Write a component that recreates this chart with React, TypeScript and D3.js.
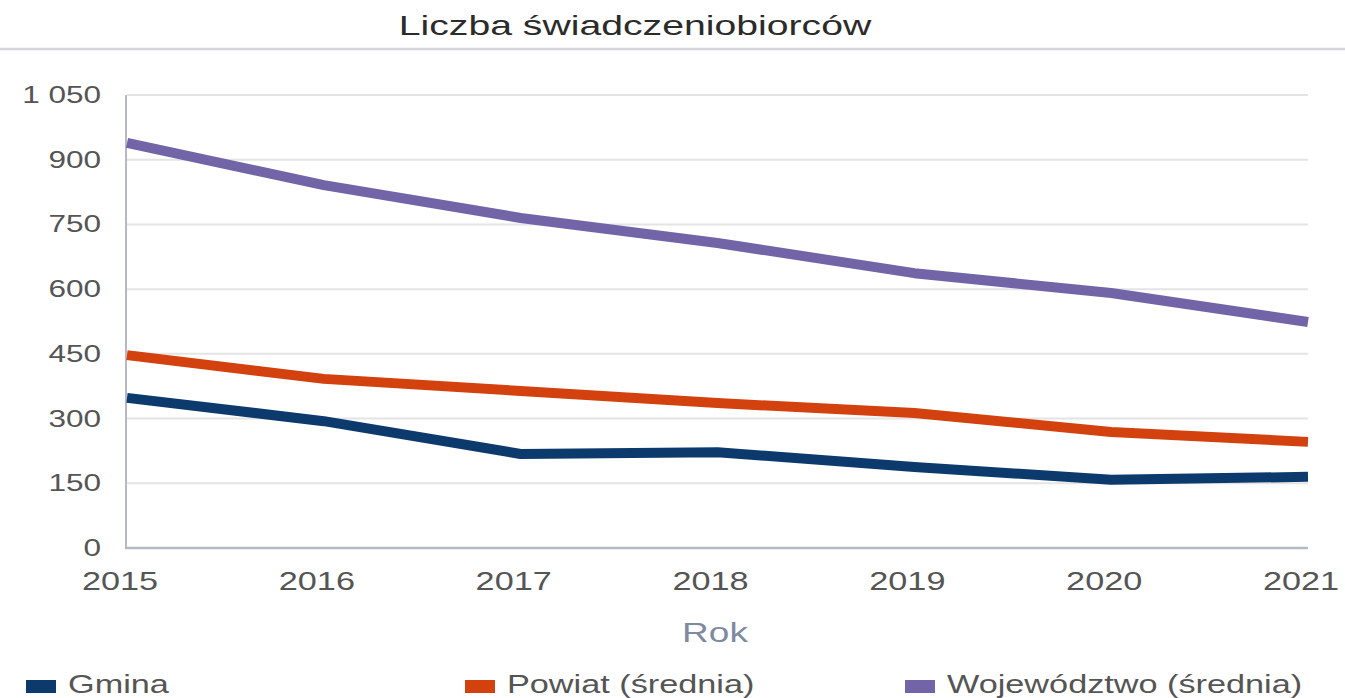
import React, { useRef, useEffect } from "react";
import * as d3 from "d3";

const years = [2015, 2016, 2017, 2018, 2019, 2020, 2021];
const gmina = [348, 294, 218, 222, 188, 158, 165];
const powiat = [447, 392, 364, 336, 313, 269, 246];
const wojewodztwo = [939, 841, 765, 707, 637, 591, 524];
const yTicks = [0, 150, 300, 450, 600, 750, 900, 1050];

const seriesNames = ["Gmina", "Powiat (średnia)", "Województwo (średnia)"];
const seriesColors = ["#0d3a6c", "#d2410e", "#7265a7"];

const FONT = "'Liberation Sans', Arial, sans-serif";

// the reference text is drawn horizontally stretched, so squeeze it back in with a scale
const stretchText = (g, x, y, str, size, anchor, color, sx = 1.37) =>
  g.append("text")
    .attr("transform", `translate(${x},${y}) scale(${sx},1)`)
    .attr("text-anchor", anchor)
    .attr("font-family", FONT)
    .attr("font-size", size)
    .attr("fill", color)
    .text(str);

const App = () => {
  const svgRef = useRef(null);
  const width = 1345;
  const height = 698;

  useEffect(() => {
    const svg = d3.select(svgRef.current);
    svg.selectAll("*").remove();

    const x = d3.scaleLinear().domain([2015, 2021]).range([127, 1308]);
    const y = d3.scaleLinear().domain([0, 1050]).range([548, 95]);

    svg.append("rect").attr("width", width).attr("height", height).attr("fill", "#fff");

    // title + separator
    stretchText(svg, 635, 35, "Liczba świadczeniobiorców", 28, "middle", "#2b2b2b", 1.4);
    svg.append("line")
      .attr("x1", 0).attr("x2", width)
      .attr("y1", 49).attr("y2", 49)
      .attr("stroke", "#d6d6d9")
      .attr("stroke-width", 2.5);

    // grid
    const grid = svg.append("g");
    grid.selectAll("line")
      .data(yTicks.filter(d => d > 0))
      .enter()
      .append("line")
      .attr("x1", x(2015)).attr("x2", x(2021))
      .attr("y1", d => y(d)).attr("y2", d => y(d))
      .attr("stroke", "#e4e4e6")
      .attr("stroke-width", 2);

    // axis lines
    svg.append("line")
      .attr("x1", x(2015) - 1).attr("x2", x(2015) - 1)
      .attr("y1", y(1050)).attr("y2", y(0))
      .attr("stroke", "#b6b8c8").attr("stroke-width", 2);
    svg.append("line")
      .attr("x1", x(2015) - 2).attr("x2", x(2021))
      .attr("y1", y(0)).attr("y2", y(0))
      .attr("stroke", "#b6b8c8").attr("stroke-width", 2.5);

    // y tick labels
    const fmt = d => d3.format(",")(d).replace(",", " ");
    yTicks.forEach(t => stretchText(svg, 101, y(t) + 8, fmt(t), 23, "end", "#555"));

    // x tick labels
    years.forEach(yr => stretchText(svg, x(yr) - 7, 590, String(yr), 25, "middle", "#555"));

    stretchText(svg, 715, 642, "Rok", 27, "middle", "#7f8aa0");

    // lines
    const line = d3.line()
      .x((d, i) => x(years[i]))
      .y(d => y(d))
      .curve(d3.curveLinear);

    const allSeries = [gmina, powiat, wojewodztwo];
    svg.append("g")
      .selectAll("path")
      .data(allSeries)
      .enter()
      .append("path")
      .attr("d", d => line(d))
      .attr("fill", "none")
      .attr("stroke", (d, i) => seriesColors[i])
      .attr("stroke-width", 10)
      .attr("stroke-linejoin", "round");

    // legend
    const legendX = [26, 465, 905];
    seriesNames.forEach((name, i) => {
      svg.append("rect")
        .attr("x", legendX[i]).attr("y", 680)
        .attr("width", 30).attr("height", 13)
        .attr("fill", seriesColors[i]);
      stretchText(svg, legendX[i] + 42, 693, name, 25, "start", "#555");
    });
  }, []);

  return (
    <svg
      ref={svgRef}
      width={width}
      height={height}
      style={{ position: "absolute", left: 0, top: 0, display: "block" }}
    ></svg>
  );
};

export default App;
